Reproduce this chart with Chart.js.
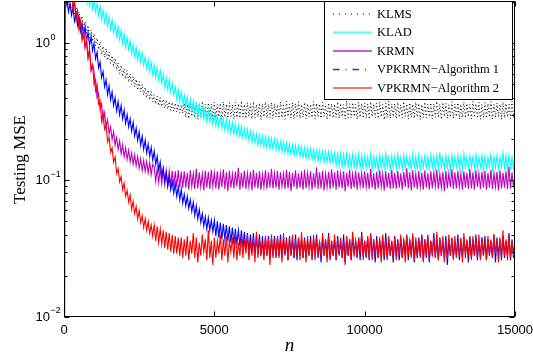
<!DOCTYPE html>
<html>
<head>
<meta charset="utf-8">
<script src="https://cdn.jsdelivr.net/npm/chart.js@4.4.0/dist/chart.umd.min.js"></script>
<style>
html, body { margin: 0; padding: 0; background: #fff; }
canvas { display: block; }
</style>
</head>
<body>
<canvas id="myChart" width="533" height="360"></canvas>
<script>
// testing MSE, one value every nStep samples (rows = 1000 samples)
var seriesNames = ['KLMS', 'KLAD', 'KRMN', 'VPKRMN\u2212Algorithm 1', 'VPKRMN\u2212Algorithm 2'];
var nStep = 50;

var klms = [
  2.45, 2.0, 2.35, 1.9, 2.1, 1.72, 1.95, 1.6, 1.82, 1.5, 1.7, 1.4, 1.58, 1.3, 1.44, 1.18, 1.35, 1.1, 1.25, 1.03,
  1.17, 0.96, 1.09, 0.9, 1.02, 0.83, 0.95, 0.79, 0.91, 0.75, 0.86, 0.71, 0.81, 0.67, 0.78, 0.64, 0.72, 0.6, 0.69, 0.57,
  0.65, 0.55, 0.63, 0.52, 0.6, 0.5, 0.57, 0.48, 0.545, 0.455, 0.525, 0.44, 0.5, 0.42, 0.475, 0.4, 0.455, 0.385, 0.445, 0.372,
  0.42, 0.36, 0.41, 0.35, 0.4, 0.345, 0.39, 0.335, 0.385, 0.33, 0.375, 0.322, 0.37, 0.318, 0.365, 0.315, 0.36, 0.31, 0.355, 0.308,
  0.365, 0.288, 0.358, 0.281, 0.372, 0.292, 0.355, 0.284, 0.368, 0.278, 0.361, 0.290, 0.376, 0.285, 0.357, 0.282, 0.366, 0.293, 0.359, 0.279,
  0.370, 0.286, 0.356, 0.290, 0.364, 0.277, 0.373, 0.288, 0.359, 0.283, 0.367, 0.291, 0.354, 0.280, 0.371, 0.287, 0.362, 0.284, 0.378, 0.289,
  0.357, 0.282, 0.369, 0.291, 0.361, 0.279, 0.374, 0.286, 0.356, 0.288, 0.366, 0.276, 0.360, 0.290, 0.372, 0.284, 0.358, 0.287, 0.368, 0.281,
  0.363, 0.289, 0.355, 0.283, 0.371, 0.286, 0.360, 0.278, 0.376, 0.291, 0.358, 0.285, 0.367, 0.280, 0.362, 0.292, 0.373, 0.284, 0.356, 0.288,
  0.369, 0.281, 0.361, 0.290, 0.357, 0.286, 0.375, 0.279, 0.364, 0.288, 0.359, 0.283, 0.370, 0.292, 0.355, 0.277, 0.366, 0.289, 0.361, 0.284,
  0.358, 0.287, 0.372, 0.282, 0.363, 0.290, 0.356, 0.280, 0.379, 0.286, 0.361, 0.284, 0.368, 0.291, 0.357, 0.278, 0.370, 0.288, 0.362, 0.283,
  0.366, 0.285, 0.359, 0.279, 0.373, 0.290, 0.357, 0.287, 0.365, 0.282, 0.371, 0.289, 0.356, 0.276, 0.364, 0.286, 0.377, 0.283, 0.360, 0.291,
  0.362, 0.280, 0.369, 0.288, 0.355, 0.285, 0.374, 0.291, 0.360, 0.279, 0.367, 0.286, 0.358, 0.283, 0.372, 0.289, 0.363, 0.277, 0.356, 0.287,
  0.371, 0.284, 0.357, 0.290, 0.366, 0.281, 0.360, 0.288, 0.376, 0.285, 0.359, 0.278, 0.368, 0.292, 0.362, 0.283, 0.355, 0.289, 0.373, 0.282,
  0.360, 0.291, 0.367, 0.279, 0.358, 0.286, 0.372, 0.284, 0.363, 0.290, 0.356, 0.281, 0.375, 0.287, 0.361, 0.283, 0.369, 0.278, 0.357, 0.288,
  0.368, 0.283, 0.362, 0.289, 0.374, 0.280, 0.356, 0.286, 0.365, 0.291, 0.359, 0.277, 0.371, 0.285, 0.363, 0.288, 0.357, 0.282, 0.378, 0.286,
  0.364
];

var klad = [
  3.9, 3.1, 3.6, 2.9, 3.45, 2.75, 3.2, 2.6, 3.05, 2.45, 2.85, 2.3, 2.7, 2.15, 2.5, 2.0, 2.35, 1.88, 2.2, 1.78,
  2.1, 1.7, 1.95, 1.6, 1.86, 1.5, 1.73, 1.42, 1.65, 1.34, 1.55, 1.27, 1.48, 1.19, 1.38, 1.13, 1.31, 1.06, 1.23, 1.0,
  1.17, 0.94, 1.1, 0.9, 1.04, 0.84, 0.97, 0.8, 0.93, 0.76, 0.88, 0.73, 0.85, 0.69, 0.79, 0.65, 0.76, 0.62, 0.72, 0.59,
  0.69, 0.56, 0.66, 0.54, 0.63, 0.51, 0.59, 0.48, 0.56, 0.46, 0.54, 0.44, 0.51, 0.42, 0.48, 0.39, 0.46, 0.375, 0.44, 0.36,
  0.415, 0.345, 0.405, 0.33, 0.39, 0.32, 0.38, 0.31, 0.36, 0.30, 0.355, 0.29, 0.345, 0.28, 0.33, 0.27, 0.325, 0.265, 0.305, 0.255,
  0.30, 0.25, 0.295, 0.245, 0.288, 0.24, 0.28, 0.233, 0.275, 0.228, 0.268, 0.222, 0.262, 0.218, 0.256, 0.213, 0.25, 0.208, 0.245, 0.204,
  0.238, 0.2, 0.234, 0.195, 0.228, 0.19, 0.223, 0.187, 0.218, 0.182, 0.213, 0.179, 0.211, 0.176, 0.207, 0.173, 0.203, 0.17, 0.201, 0.169,
  0.199, 0.167, 0.195, 0.164, 0.192, 0.162, 0.19, 0.159, 0.186, 0.156, 0.183, 0.154, 0.181, 0.152, 0.179, 0.151, 0.177, 0.149, 0.175, 0.147,
  0.172, 0.145, 0.171, 0.144, 0.169, 0.142, 0.167, 0.14, 0.165, 0.139, 0.164, 0.137, 0.162, 0.136, 0.161, 0.135, 0.16, 0.134, 0.159, 0.134,
  0.158, 0.128, 0.155, 0.127, 0.157, 0.126, 0.153, 0.126, 0.156, 0.125, 0.152, 0.124, 0.155, 0.124, 0.151, 0.123, 0.154, 0.123, 0.150, 0.122,
  0.151, 0.122, 0.147, 0.125, 0.155, 0.120, 0.149, 0.124, 0.146, 0.118, 0.153, 0.123, 0.148, 0.121, 0.157, 0.125, 0.147, 0.119, 0.150, 0.123,
  0.148, 0.121, 0.154, 0.124, 0.146, 0.119, 0.151, 0.122, 0.149, 0.126, 0.147, 0.120, 0.156, 0.123, 0.148, 0.121, 0.152, 0.118, 0.146, 0.124,
  0.150, 0.123, 0.147, 0.120, 0.153, 0.125, 0.148, 0.119, 0.151, 0.122, 0.159, 0.124, 0.146, 0.121, 0.150, 0.123, 0.148, 0.117, 0.152, 0.122,
  0.147, 0.124, 0.152, 0.121, 0.149, 0.118, 0.155, 0.123, 0.146, 0.122, 0.150, 0.125, 0.148, 0.120, 0.153, 0.122, 0.147, 0.124, 0.151, 0.119,
  0.149, 0.122, 0.146, 0.125, 0.154, 0.120, 0.148, 0.123, 0.151, 0.121, 0.147, 0.124, 0.158, 0.122, 0.149, 0.119, 0.152, 0.123, 0.147, 0.121,
  0.150
];

var krmn = [
  3.0, 3.4, 2.6, 2.85, 2.15, 2.4, 1.8, 2.0, 1.52, 1.7, 1.30, 1.42, 1.10, 1.22, 0.94, 1.04, 0.79, 0.88, 0.63, 0.69,
  0.50, 0.54, 0.40, 0.43, 0.33, 0.36, 0.27, 0.31, 0.245, 0.275, 0.218, 0.245, 0.198, 0.226, 0.18, 0.205, 0.168, 0.194, 0.156, 0.181,
  0.148, 0.172, 0.142, 0.165, 0.136, 0.158, 0.131, 0.153, 0.127, 0.148, 0.122, 0.143, 0.118, 0.14, 0.116, 0.137, 0.113, 0.134, 0.11, 0.13,
  0.125, 0.098, 0.122, 0.096, 0.121, 0.094, 0.119, 0.093, 0.118, 0.092, 0.117, 0.091, 0.117, 0.090, 0.116, 0.089, 0.118, 0.088, 0.115, 0.088,
  0.116, 0.088, 0.113, 0.085, 0.118, 0.090, 0.112, 0.086, 0.121, 0.087, 0.114, 0.089, 0.111, 0.084, 0.117, 0.088, 0.115, 0.086, 0.119, 0.090,
  0.113, 0.087, 0.116, 0.085, 0.112, 0.089, 0.120, 0.086, 0.114, 0.083, 0.117, 0.088, 0.111, 0.087, 0.115, 0.090, 0.123, 0.085, 0.113, 0.088,
  0.117, 0.086, 0.112, 0.089, 0.115, 0.084, 0.119, 0.088, 0.113, 0.087, 0.116, 0.085, 0.110, 0.089, 0.118, 0.086, 0.114, 0.088, 0.121, 0.087,
  0.112, 0.088, 0.117, 0.085, 0.114, 0.090, 0.111, 0.086, 0.119, 0.087, 0.115, 0.083, 0.113, 0.089, 0.118, 0.086, 0.112, 0.088, 0.116, 0.085,
  0.119, 0.087, 0.113, 0.089, 0.116, 0.085, 0.112, 0.088, 0.124, 0.086, 0.114, 0.087, 0.117, 0.084, 0.111, 0.089, 0.115, 0.086, 0.120, 0.088,
  0.114, 0.085, 0.118, 0.088, 0.112, 0.087, 0.116, 0.083, 0.113, 0.089, 0.119, 0.086, 0.111, 0.088, 0.117, 0.085, 0.114, 0.090, 0.112, 0.087,
  0.116, 0.089, 0.113, 0.086, 0.121, 0.088, 0.112, 0.085, 0.115, 0.087, 0.118, 0.089, 0.111, 0.084, 0.116, 0.088, 0.113, 0.086, 0.119, 0.087,
  0.113, 0.086, 0.117, 0.088, 0.112, 0.085, 0.115, 0.089, 0.122, 0.087, 0.114, 0.084, 0.118, 0.088, 0.111, 0.086, 0.116, 0.089, 0.113, 0.085,
  0.118, 0.088, 0.112, 0.085, 0.116, 0.087, 0.113, 0.090, 0.119, 0.086, 0.111, 0.088, 0.115, 0.083, 0.117, 0.087, 0.112, 0.089, 0.120, 0.086,
  0.114, 0.087, 0.117, 0.089, 0.112, 0.085, 0.116, 0.088, 0.113, 0.086, 0.121, 0.087, 0.114, 0.085, 0.118, 0.089, 0.112, 0.086, 0.115, 0.088,
  0.117, 0.085, 0.113, 0.088, 0.119, 0.086, 0.112, 0.089, 0.115, 0.084, 0.118, 0.087, 0.113, 0.088, 0.116, 0.086, 0.125, 0.087, 0.114, 0.088,
  0.113
];

var alg1 = [
  2.2, 1.8, 2.05, 1.7, 1.95, 1.6, 1.82, 1.45, 1.65, 1.35, 1.55, 1.22, 1.40, 1.13, 1.32, 1.04, 1.20, 0.97, 1.12, 0.88,
  1.0, 0.77, 0.86, 0.66, 0.73, 0.56, 0.62, 0.48, 0.54, 0.42, 0.49, 0.385, 0.44, 0.35, 0.40, 0.32, 0.375, 0.30, 0.35, 0.28,
  0.325, 0.26, 0.30, 0.245, 0.28, 0.228, 0.265, 0.21, 0.24, 0.195, 0.225, 0.18, 0.21, 0.168, 0.196, 0.158, 0.183, 0.149, 0.174, 0.14,
  0.163, 0.13, 0.149, 0.118, 0.136, 0.107, 0.123, 0.098, 0.113, 0.09, 0.105, 0.085, 0.098, 0.08, 0.094, 0.076, 0.089, 0.072, 0.086, 0.068,
  0.079, 0.065, 0.076, 0.062, 0.072, 0.059, 0.069, 0.055, 0.065, 0.052, 0.061, 0.049, 0.057, 0.046, 0.054, 0.044, 0.053, 0.043, 0.051, 0.042,
  0.051, 0.039, 0.050, 0.038, 0.049, 0.037, 0.048, 0.037, 0.047, 0.036, 0.046, 0.035, 0.045, 0.034, 0.044, 0.034, 0.043, 0.033, 0.043, 0.032,
  0.042, 0.031, 0.041, 0.030, 0.040, 0.030, 0.041, 0.029, 0.039, 0.029, 0.040, 0.028, 0.039, 0.028, 0.038, 0.028, 0.039, 0.027, 0.038, 0.028,
  0.039, 0.027, 0.038, 0.028, 0.040, 0.027, 0.037, 0.028, 0.038, 0.026, 0.039, 0.028, 0.037, 0.027, 0.040, 0.026, 0.038, 0.028, 0.037, 0.027,
  0.038, 0.027, 0.036, 0.028, 0.039, 0.026, 0.037, 0.029, 0.040, 0.027, 0.036, 0.025, 0.038, 0.028, 0.037, 0.027, 0.041, 0.026, 0.036, 0.028,
  0.037, 0.026, 0.039, 0.028, 0.036, 0.027, 0.040, 0.025, 0.038, 0.028, 0.037, 0.026, 0.039, 0.029, 0.036, 0.027, 0.038, 0.026, 0.042, 0.028,
  0.036, 0.027, 0.038, 0.026, 0.040, 0.028, 0.037, 0.025, 0.039, 0.027, 0.036, 0.029, 0.038, 0.026, 0.041, 0.027, 0.037, 0.028, 0.036, 0.025,
  0.039, 0.028, 0.037, 0.026, 0.038, 0.027, 0.036, 0.029, 0.040, 0.026, 0.037, 0.028, 0.039, 0.025, 0.036, 0.027, 0.038, 0.028, 0.040, 0.026,
  0.037, 0.027, 0.039, 0.025, 0.036, 0.028, 0.041, 0.027, 0.037, 0.026, 0.038, 0.028, 0.036, 0.027, 0.039, 0.024, 0.037, 0.028, 0.038, 0.027,
  0.036, 0.028, 0.040, 0.026, 0.037, 0.027, 0.038, 0.029, 0.036, 0.025, 0.039, 0.027, 0.037, 0.028, 0.040, 0.026, 0.036, 0.027, 0.038, 0.028,
  0.039, 0.026, 0.037, 0.028, 0.036, 0.027, 0.040, 0.025, 0.038, 0.028, 0.037, 0.026, 0.039, 0.027, 0.036, 0.028, 0.041, 0.026, 0.037, 0.027,
  0.036
];

var alg2 = [
  0.0001, 3.2, 2.5, 2.9, 2.1, 2.45, 1.75, 2.05, 1.5, 1.72, 1.25, 1.45, 1.05, 1.22, 0.93, 1.06, 0.78, 0.92, 0.64, 0.70,
  0.62, 0.45, 0.50, 0.36, 0.38, 0.27, 0.31, 0.235, 0.25, 0.19, 0.205, 0.16, 0.172, 0.135, 0.148, 0.112, 0.121, 0.097, 0.106, 0.085,
  0.095, 0.076, 0.084, 0.069, 0.078, 0.061, 0.070, 0.057, 0.064, 0.052, 0.060, 0.049, 0.055, 0.045, 0.052, 0.043, 0.050, 0.041, 0.047, 0.039,
  0.047, 0.036, 0.046, 0.035, 0.044, 0.034, 0.043, 0.032, 0.042, 0.031, 0.041, 0.030, 0.040, 0.029, 0.039, 0.029, 0.038, 0.028, 0.038, 0.027,
  0.037, 0.028, 0.039, 0.026, 0.036, 0.029, 0.041, 0.027, 0.038, 0.025, 0.035, 0.028, 0.040, 0.030, 0.037, 0.026, 0.043, 0.027, 0.036, 0.024,
  0.038, 0.027, 0.036, 0.029, 0.040, 0.026, 0.037, 0.028, 0.039, 0.025, 0.036, 0.030, 0.038, 0.027, 0.041, 0.026, 0.035, 0.028, 0.039, 0.027,
  0.037, 0.029, 0.040, 0.026, 0.036, 0.028, 0.038, 0.025, 0.042, 0.027, 0.037, 0.029, 0.035, 0.026, 0.039, 0.028, 0.037, 0.024, 0.040, 0.027,
  0.036, 0.028, 0.039, 0.027, 0.037, 0.025, 0.041, 0.029, 0.036, 0.026, 0.038, 0.028, 0.040, 0.027, 0.035, 0.029, 0.038, 0.026, 0.042, 0.027,
  0.037, 0.025, 0.039, 0.028, 0.036, 0.027, 0.040, 0.026, 0.038, 0.029, 0.035, 0.027, 0.041, 0.028, 0.037, 0.025, 0.039, 0.027, 0.036, 0.028,
  0.040, 0.026, 0.037, 0.029, 0.038, 0.027, 0.036, 0.024, 0.039, 0.028, 0.037, 0.026, 0.042, 0.028, 0.036, 0.027, 0.038, 0.029, 0.040, 0.026,
  0.036, 0.028, 0.039, 0.027, 0.041, 0.026, 0.037, 0.029, 0.035, 0.027, 0.038, 0.025, 0.040, 0.028, 0.037, 0.026, 0.039, 0.028, 0.036, 0.027,
  0.038, 0.026, 0.036, 0.028, 0.040, 0.027, 0.037, 0.025, 0.039, 0.029, 0.036, 0.027, 0.041, 0.026, 0.038, 0.028, 0.035, 0.027, 0.039, 0.025,
  0.037, 0.028, 0.040, 0.026, 0.036, 0.029, 0.038, 0.027, 0.042, 0.026, 0.037, 0.028, 0.039, 0.025, 0.036, 0.027, 0.040, 0.028, 0.037, 0.026,
  0.039, 0.027, 0.036, 0.028, 0.038, 0.025, 0.041, 0.027, 0.037, 0.029, 0.035, 0.026, 0.039, 0.028, 0.037, 0.027, 0.040, 0.026, 0.038, 0.028,
  0.036, 0.026, 0.039, 0.028, 0.037, 0.027, 0.040, 0.029, 0.036, 0.025, 0.038, 0.027, 0.043, 0.028, 0.037, 0.026, 0.039, 0.027, 0.036, 0.028,
  0.037
];

var xTicks = [0, 5000, 10000, 15000];
var yTicks = [0.01, 0.1, 1];
var yTickExp = ['\u22122', '\u22121', '0'];

function toPoints(vals) {
  return vals.map(function (v, i) { return { x: i * nStep, y: v }; });
}

// legend sample styles (colour, width, dash)
var legendStyle = [
  { c: '#000000', w: 1, d: [1, 5] },
  { c: '#55ffff', w: 2.2, d: [] },
  { c: '#cc22cc', w: 1.5, d: [] },
  { c: '#2233ff', w: 1.5, d: [6.5, 6, 1, 6] },
  { c: '#ff7070', w: 2.2, d: [] }
];

var matlabAxes = {
  id: 'matlabAxes',
  afterDraw: function (chart) {
    var ctx = chart.ctx, a = chart.chartArea;
    var xs = chart.scales.x, ys = chart.scales.y;
    var L = a.left + 0.5, R = a.right - 0.5, T = a.top - 0.5, B = a.bottom - 0.5;
    ctx.save();
    ctx.strokeStyle = '#000';
    ctx.lineWidth = 1;
    ctx.setLineDash([]);
    ctx.beginPath();
    ctx.rect(L, T, R - L, B - T);
    // x ticks
    xTicks.forEach(function (v) {
      var px = Math.round(xs.getPixelForValue(v)) + 0.5;
      ctx.moveTo(px, B); ctx.lineTo(px, B - 5);
      ctx.moveTo(px, T); ctx.lineTo(px, T + 5);
    });
    // y ticks, major and minor
    yTicks.forEach(function (d) {
      for (var k = 1; k <= 9; k++) {
        var v = k * d;
        if (v > ys.max * 1.0001) break;
        var py = Math.round(ys.getPixelForValue(v)) + 0.5;
        var len = k === 1 ? 5 : 3;
        ctx.moveTo(L, py); ctx.lineTo(L + len, py);
        ctx.moveTo(R, py); ctx.lineTo(R - len, py);
      }
    });
    ctx.stroke();

    // tick labels
    ctx.fillStyle = '#000';
    ctx.font = '13px "Liberation Sans", Arial, sans-serif';
    ctx.textAlign = 'center';
    ctx.textBaseline = 'middle';
    xTicks.forEach(function (v) {
      ctx.fillText(String(v), xs.getPixelForValue(v), 330);
    });
    yTicks.forEach(function (v, i) {
      var py = ys.getPixelForValue(v);
      ctx.font = '13px "Liberation Sans", Arial, sans-serif';
      ctx.textAlign = 'right';
      ctx.fillText('10', 50, py + 0.5);
      ctx.font = '9px "Liberation Sans", Arial, sans-serif';
      ctx.textAlign = 'left';
      ctx.fillText(yTickExp[i], 50.5, py - 6);
    });

    // axis titles
    ctx.textAlign = 'center';
    ctx.font = 'italic 19px "Liberation Serif", "Times New Roman", serif';
    ctx.fillText('n', (a.left + a.right) / 2, 346);
    ctx.save();
    ctx.translate(21, (a.top + a.bottom) / 2);
    ctx.rotate(-Math.PI / 2);
    ctx.font = '17px "Liberation Serif", "Times New Roman", serif';
    ctx.fillText('Testing MSE', 0, 0);
    ctx.restore();

    // legend box
    var bx = 324.5, by = 1.5, bw = 188, bh = 98;
    ctx.fillStyle = '#fff';
    ctx.fillRect(bx, by, bw, bh);
    ctx.strokeStyle = '#000';
    ctx.lineWidth = 1;
    ctx.strokeRect(bx, by, bw, bh);
    ctx.font = '12.5px "Liberation Serif", "Times New Roman", serif';
    ctx.textAlign = 'left';
    ctx.textBaseline = 'middle';
    chart.data.datasets.forEach(function (ds, i) {
      var ly = 14 + i * 18.5;
      var st = legendStyle[i];
      ctx.beginPath();
      ctx.strokeStyle = st.c;
      ctx.lineWidth = st.w;
      ctx.setLineDash(st.d);
      ctx.moveTo(333, ly); ctx.lineTo(372, ly);
      ctx.stroke();
      ctx.setLineDash([]);
      ctx.fillStyle = '#000';
      ctx.fillText(ds.label, 377, ly + 0.5);
    });
    ctx.restore();
  }
};

new Chart('myChart', {
  type: 'line',
  data: {
    datasets: [{
      label: seriesNames[0], data: toPoints(klms),
      borderColor: '#000000', borderWidth: 1, borderDash: [1, 2.5],
      pointRadius: 0, fill: false, tension: 0, order: 5
    }, {
      label: seriesNames[1], data: toPoints(klad),
      borderColor: '#00ffff', borderWidth: 1.1,
      pointRadius: 0, fill: false, tension: 0, order: 4
    }, {
      label: seriesNames[2], data: toPoints(krmn),
      borderColor: '#bf00bf', borderWidth: 1.1,
      pointRadius: 0, fill: false, tension: 0, order: 3
    }, {
      label: seriesNames[3], data: toPoints(alg1),
      borderColor: '#0000ff', borderWidth: 1.1,
      pointRadius: 0, fill: false, tension: 0, order: 2
    }, {
      label: seriesNames[4], data: toPoints(alg2),
      borderColor: '#ff0000', borderWidth: 1.1,
      pointRadius: 0, fill: false, tension: 0, order: 1
    }]
  },
  options: {
    responsive: false,
    animation: false,
    devicePixelRatio: 1,
    layout: { padding: { left: 64, top: 2, right: 18, bottom: 43 } },
    plugins: {
      legend: { display: false },
      tooltip: { enabled: false }
    },
    scales: {
      x: { type: 'linear', min: 0, max: 15000, display: false },
      y: { type: 'logarithmic', min: 0.01, max: 2, display: false }
    }
  },
  plugins: [matlabAxes]
});
</script>
</body>
</html>
